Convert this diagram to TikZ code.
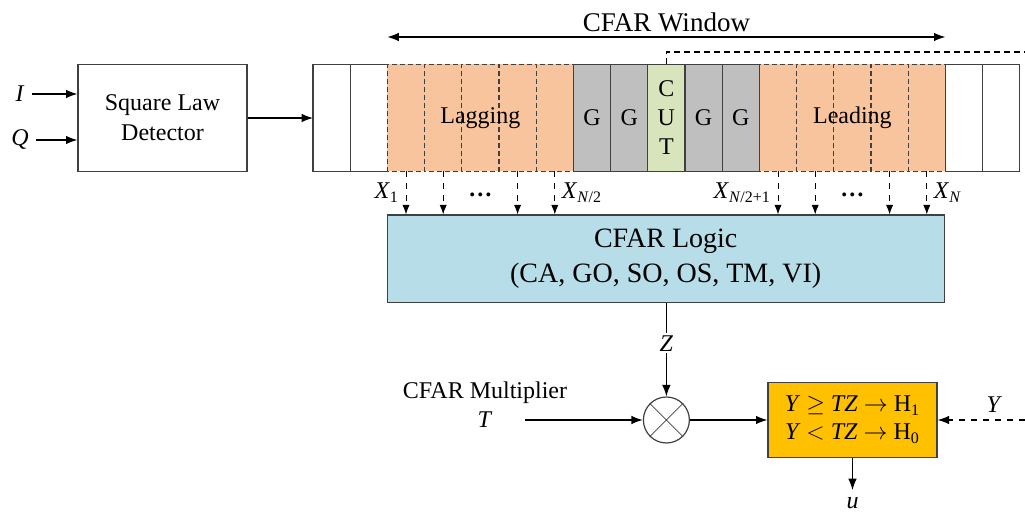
\documentclass[tikz,border=0pt]{standalone}
\usepackage{fontspec}
\setmainfont{Liberation Serif}
\usepackage{tikz}
\definecolor{trainfill}{RGB}{248,196,158}
\definecolor{guardfill}{RGB}{191,191,191}
\definecolor{cutfill}{RGB}{216,228,188}
\definecolor{logicfill}{RGB}{183,221,232}
\definecolor{testfill}{RGB}{255,192,0}
\tikzstyle{cell}=[shape=rectangle,
                  draw=black!75,
                  minimum width=18.6pt,
                  minimum height=53.5pt,
                  inner sep=0pt,
                  outer sep=0pt,
                  semithick]
\tikzstyle{train}=[cell,
                   fill=trainfill,
                   dash pattern=on 2.5pt off 1.5pt,
                   dash phase=1.85pt]
\tikzstyle{guard}=[cell, fill=guardfill]
\tikzstyle{blk}=[shape=rectangle,
                 draw=black!75,
                 semithick,
                 align=center]
\usetikzlibrary{positioning, calc, arrows.meta}

\begin{document}
\begin{tikzpicture}[x=0.5pt, y=-0.5pt, >=Latex, semithick, font=\fontsize{12}{15}\selectfont]
\useasboundingbox (0,0) rectangle (1025,512);

% detector
\node[blk, minimum width=84.5pt, minimum height=53.5pt] (det) at (162.5,118) {Square Law\\Detector};
\node (I) at (20,94) {\textit{I}};
\node (Q) at (20,140) {\textit{Q}};

% window cells
\node[cell] (w1) at (331.6,118) {};
\node[cell, right=0pt of w1] (w2) {};
\node[train, right=0pt of w2] (lag1) {};
\node[train, right=0pt of lag1] (lag2) {};
\node[train, right=0pt of lag2] (lag3) {};
\node[train, right=0pt of lag3] (lag4) {};
\node[train, right=0pt of lag4] (lag5) {};
\node[cell, right=186pt of lag5] (w3) {};
\node[cell, right=0pt of w3] (w4) {};
\node[train, right=93pt of lag5] (lead1) {};
\node[train, right=0pt of lead1] (lead2) {};
\node[train, right=0pt of lead2] (lead3) {};
\node[train, right=0pt of lead3] (lead4) {};
\node[train, right=0pt of lead4] (lead5) {};
\node[guard, right=0pt of lag5] (g1) {G};
\node[guard, right=0pt of g1] (g2) {G};
\node[cell, fill=cutfill, align=center, font=\fontsize{12}{14.5}\selectfont, right=0pt of g2] (cut) {C\\U\\T};
\node[guard, right=0pt of cut] (g3) {G};
\node[guard, right=0pt of g3] (g4) {G};

\node (lagtxt) at (lag3) {Lagging};
\node (leadtxt) at (lead3) {Leading};

% window span and feedback
\coordinate (winl) at (lag1.north west |- 0,37);
\coordinate (winr) at (lead5.north east |- 0,37);
\draw[<->] (winl) -- node[above, inner sep=2pt, font=\fontsize{13.5}{16}\selectfont] (wintxt) {CFAR Window} (winr);
\coordinate (fb) at (1025,52);
\draw[dash pattern=on 3pt off 2pt] (cut.north) |- (fb);

% logic
\node[blk, fill=logicfill, minimum width=278.5pt, minimum height=43.75pt, font=\fontsize{14}{17.5}\selectfont] (logic) at (665.7,258.75) {CFAR Logic\\(CA, GO, SO, OS, TM, VI)};

\node (dotl) at (480.4,195) {\textbf{…}};
\node (dotr) at (852.4,195) {\textbf{…}};

% cell outputs
\path[->, thin, dashed] (lag1) edge node[left] (x1) {\textit{X}\textsubscript{1}} (lag1 |- logic.north);
\path[->, thin, dashed] (lag2) edge (lag2 |- logic.north);
\path[->, thin, dashed] (lag4) edge (lag4 |- logic.north);
\path[->, thin, dashed] (lag5) edge node[right] (xh) {\textit{X}\textsubscript{\textit{N}/2}} (lag5 |- logic.north);
\path[->, thin, dashed] (lead1) edge node[left] (xh1) {\textit{X}\textsubscript{\textit{N}/2+1}} (lead1 |- logic.north);
\path[->, thin, dashed] (lead2) edge (lead2 |- logic.north);
\path[->, thin, dashed] (lead4) edge (lead4 |- logic.north);
\path[->, thin, dashed] (lead5) edge node[right] (xn) {\textit{X}\textsubscript{\textit{N}}} (lead5 |- logic.north);

% inputs
\path[->] (I) edge (I -| det.west);
\path[->] (Q) edge (Q -| det.west);
\path[->] (det) edge (w1);

% multiplier
\node[shape=circle, draw=black!75, minimum size=23pt, inner sep=0pt] (mult) at (666.4,420) {};
\draw[thin, black!75] (mult.north east) -- (mult.south west) (mult.north west) -- (mult.south east);
\node (mlab) at (485,393) {CFAR Multiplier};
\node (tlab) at (485,420) {\textit{T}};
\coordinate (tin) at (525,420);

\path[->] (mult |- logic.south) edge node[fill=white, pos=0.43, inner sep=1pt] (zlab) {\textit{Z}} (mult);
\path[->] (tin) edge (mult);

% decision
\node[blk, fill=testfill, minimum width=84.5pt, minimum height=37.5pt, font=\fontsize{12}{14}\selectfont] (test) at (852.5,420) {\textit{Y} $\geq$ \textit{TZ} $\rightarrow$ H\textsubscript{1}\\\textit{Y} $<$ \textit{TZ} $\rightarrow$ H\textsubscript{0}};
\coordinate (yin) at (1025,420);
\node (u) at (852.5,503) {\textit{u}};

\path[->] (mult) edge (test);
\path[->, dashed] (yin) edge node[above, pos=0.35] (ylab) {\textit{Y}} (test);
\path[->] (test) edge (u);

\end{tikzpicture}
\end{document}
